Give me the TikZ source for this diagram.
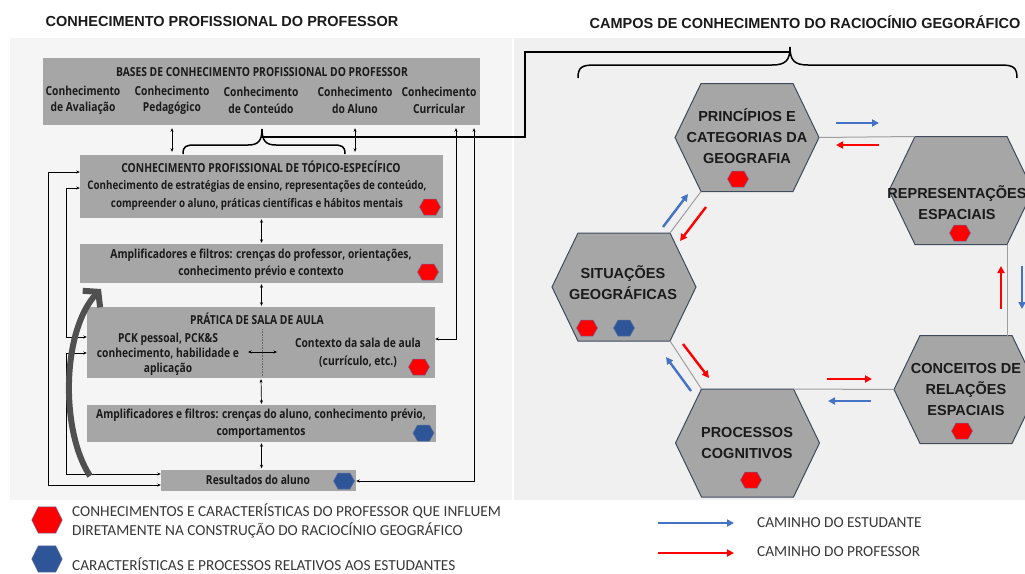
\documentclass[tikz,border=0pt]{standalone}
\usepackage{fontspec}
\setmainfont{Liberation Sans}
\newfontfamily\boxfont[FakeStretch=0.83]{Open Sans}
\newfontfamily\legfont{Carlito}
\usetikzlibrary{arrows.meta,calc}

\definecolor{panelL}{HTML}{F5F5F5}
\definecolor{panelR}{HTML}{F0F0F0}
\definecolor{boxgray}{HTML}{A6A6A6}
\definecolor{hexgray}{HTML}{A6A6A6}
\definecolor{hexrim}{HTML}{3F4A5C}
\definecolor{markred}{HTML}{FF0000}
\definecolor{markblue}{HTML}{2E5597}
\definecolor{markrim}{HTML}{6070A0}
\definecolor{pathblue}{HTML}{4472C4}
\definecolor{pathred}{HTML}{FF0000}
\definecolor{linkgray}{HTML}{9E9E9E}
\definecolor{curvegray}{HTML}{505050}
\definecolor{inkdark}{HTML}{1A1A1A}
\definecolor{legink}{HTML}{383838}

% flat-topped hexagon with named corners
\newcommand\drawhex[3]{%
  \coordinate (#1) at (#2,#3);
  \coordinate (#1-w)  at ($(#1)+(-72,0)$);
  \coordinate (#1-nw) at ($(#1)+(-46,-54)$);
  \coordinate (#1-ne) at ($(#1)+(46,-54)$);
  \coordinate (#1-e)  at ($(#1)+(72,0)$);
  \coordinate (#1-se) at ($(#1)+(46,54)$);
  \coordinate (#1-sw) at ($(#1)+(-46,54)$);
  \filldraw[bighex] (#1-w) -- (#1-nw) -- (#1-ne) -- (#1-e) -- (#1-se) -- (#1-sw) -- cycle;
}

\tikzset{
  pics/redmark/.style={code={\filldraw[fill=markred,draw=markrim,line width=0.5pt]
      (-10.5,0) -- (-6,-8) -- (6,-8) -- (10.5,0) -- (6,8) -- (-6,8) -- cycle;}},
  pics/bluemark/.style={code={\filldraw[fill=markblue,draw=markrim,line width=0.5pt]
      (-10.5,0) -- (-6,-8) -- (6,-8) -- (10.5,0) -- (6,8) -- (-6,8) -- cycle;}},
}

\begin{document}
\begin{tikzpicture}[x=1pt,y=-1pt,
  title/.style={font=\bfseries\fontsize{14.5}{17}\selectfont, inner sep=0pt, text=inkdark},
  gbox/.style={fill=boxgray, draw=none, inner sep=0pt},
  btxt/.style={font=\boxfont\bfseries\fontsize{12.4}{17}\selectfont, align=center, inner sep=0pt, text=inkdark},
  link/.style={line width=0.7pt, {Stealth[length=3.5pt,width=3pt]}-{Stealth[length=3.5pt,width=3pt]}},
  brace/.style={line width=1.5pt, black},
  bridge/.style={line width=1.5pt, black},
  bigcurve/.style={line width=6pt, curvegray, -{Straight Barb[length=10pt,width=24pt]}},
  bighex/.style={fill=hexgray, draw=hexrim, line width=1pt},
  hextxt/.style={font=\bfseries\fontsize{14.5}{21}\selectfont, align=center, inner sep=0pt, text=inkdark},
  hexlink/.style={line width=1pt, linkgray},
  patharrow/.style={line width=2.4pt, -{Triangle[length=7pt,width=7pt]}},
  legtxt/.style={font=\legfont\fontsize{15.3}{19}\selectfont, align=left, inner sep=0pt, text=legink, anchor=west},
]
\useasboundingbox (0,0) rectangle (1025,573);
\clip (0,0) rectangle (1025,573);
\fill[white] (0,0) rectangle (1025,573);
\fill[panelL] (10,38) rectangle (512,500);
\fill[panelR] (514,38) rectangle (1025,500);

% ---------- titles ----------
\node[title] (ttlL) at (222,22) {CONHECIMENTO PROFISSIONAL DO PROFESSOR};
\node[title] (ttlR) at (805,22) {CAMPOS DE CONHECIMENTO DO RACIOCÍNIO GEGORÁFICO};

% ---------- left panel: boxes ----------
\node[gbox, minimum width=437pt, minimum height=67pt] (bases) at (261.5,91.5) {};
\node[btxt] (basesT) at (262,72) {BASES DE CONHECIMENTO PROFISSIONAL DO PROFESSOR};
\node[btxt, font=\boxfont\bfseries\fontsize{12.4}{16.5}\selectfont] (cAva) at (83,100.5) {Conhecimento\\de Avaliação};
\node[btxt, font=\boxfont\bfseries\fontsize{12.4}{16.5}\selectfont] (cPed) at (172,100.5) {Conhecimento\\Pedagógico};
\node[btxt, font=\boxfont\bfseries\fontsize{12.4}{16.5}\selectfont] (cCon) at (261,100.5) {Conhecimento\\de Conteúdo};
\node[btxt, font=\boxfont\bfseries\fontsize{12.4}{16.5}\selectfont] (cAlu) at (355,100.5) {Conhecimento\\do Aluno};
\node[btxt, font=\boxfont\bfseries\fontsize{12.4}{16.5}\selectfont] (cCur) at (439,100.5) {Conhecimento\\Curricular};

\node[gbox, minimum width=363pt, minimum height=63pt] (topic) at (261.5,186.5) {};
\node[btxt] (topicT) at (261,167) {CONHECIMENTO PROFISSIONAL DE TÓPICO-ESPECÍFICO};
\node[btxt, font=\boxfont\bfseries\fontsize{11.8}{18}\selectfont] (topicB) at (257,195.5) {Conhecimento de estratégias de ensino, representações de conteúdo,\\compreender o aluno, práticas científicas e hábitos mentais};
\pic at (430,207) {redmark};

\node[gbox, minimum width=363pt, minimum height=39pt] (amp1) at (261.5,263.5) {};
\node[btxt] (amp1T) at (261,264) {Amplificadores e filtros: crenças do professor, orientações,\\conhecimento prévio e contexto};
\pic at (428,272) {redmark};

\node[gbox, minimum width=348pt, minimum height=71pt] (prat) at (261,342.5) {};
\node[btxt] (pratT) at (257,319) {PRÁTICA DE SALA DE AULA};
\node[btxt, font=\boxfont\bfseries\fontsize{12.4}{14.8}\selectfont] (pratL) at (168,354) {PCK pessoal, PCK\&S\\conhecimento, habilidade e\\aplicação};
\node[btxt, font=\boxfont\bfseries\fontsize{12.4}{18}\selectfont] (pratR) at (358,352.5) {Contexto da sala de aula\\(currículo, etc.)};
\coordinate (divTop) at (262,329);
\coordinate (divBot) at (262,376);
\draw[densely dotted, line width=0.6pt, black!60] (divTop) -- (divBot);
\coordinate (pkA) at (248,352);
\coordinate (pkB) at (277,352);
\draw[link] (pkA) -- (pkB);
\pic at (419,367) {redmark};

\node[gbox, minimum width=349pt, minimum height=37pt] (amp2) at (261.5,423.5) {};
\node[btxt] (amp2T) at (261,423.5) {Amplificadores e filtros: crenças do aluno, conhecimento prévio,\\comportamentos};
\pic at (423.5,433) {bluemark};

\node[gbox, minimum width=195pt, minimum height=21pt] (res) at (258.5,480) {};
\node[btxt] (resT) at (258,480) {Resultados do aluno};
\pic at (344,481) {bluemark};

% ---------- left panel: connectors ----------
\draw[link] ([yshift=-3pt]bases.south -| cPed) -- ([yshift=3pt]topic.north -| cPed);
\draw[link] ([yshift=-3pt]bases.south -| cAlu) -- ([yshift=3pt]topic.north -| cAlu);
\draw[link, shorten <=1pt, shorten >=1pt] (topic.south) -- (amp1.north);
\draw[link, shorten <=1pt, shorten >=1pt] (amp1.south) -- (amp1.south |- prat.north);
\draw[link, shorten <=1pt, shorten >=1pt] (prat.south) -- (amp2.north);
\draw[link, shorten <=1pt, shorten >=1pt] (amp2.south) -- (amp2.south |- res.north);

\coordinate (outerL) at (48,485);
\coordinate (innerA) at (66,337);
\coordinate (innerB) at (66,474);
\coordinate (rightA) at (456,339);
\coordinate (rightB) at (474,481);
\draw[link] ([yshift=14.5pt]topic.west) -| (outerL) -- ([yshift=-5pt]res.west);
\draw[link] ([yshift=-1.5pt]topic.west) -| (innerA) -- ([yshift=5.5pt]prat.west);
\draw[link] ([yshift=-10.5pt]prat.west) -| (innerB) -- ([yshift=6pt]res.west);
\draw[link] ([yshift=-3pt]bases.south -| rightA) -- (rightA) -- ([yshift=3.5pt]prat.east);
\draw[link] ([yshift=-3pt]bases.south -| rightB) -- (rightB) -- ([yshift=-1pt]res.east);

% big feedback arrow
\coordinate (curveS) at (90,476);
\coordinate (curveE) at (101,289);
\draw[bigcurve] (curveS) .. controls (60,430) and (62,330) .. (curveE);

% braces and the bridge between the two panels
\coordinate (braceL) at (262,129);
\coordinate (braceR) at (790,47);
\draw[brace] (183,154) .. controls (183,146) and (186,145) .. (195,145) -- (248,145)
  .. controls (258,145) and (262,141) .. (braceL)
  .. controls (262,141) and (266,145) .. (276,145) -- (333,145)
  .. controls (342,145) and (345,146) .. (345,154);
\draw[brace] (578,78) .. controls (578,67) and (582,65) .. (595,65) -- (772,65)
  .. controls (786,65) and (790,60) .. (braceR)
  .. controls (790,60) and (794,65) .. (808,65) -- (1000,65)
  .. controls (1013,65) and (1017,67) .. (1017,78);
\coordinate (bendA) at (525,137);
\coordinate (bendB) at (525,52);
\draw[bridge] (braceL) -- (braceL |- bendA) -- (bendA) -- (bendB) -- (braceR |- bendB);

% ---------- right panel: hexagons ----------
\drawhex{h1}{747}{137.5}
\drawhex{h2}{961}{190.5}
\drawhex{h3}{624}{287}
\drawhex{h4}{747.5}{443}
\drawhex{h5}{966}{389.5}

\draw[hexlink] (h1-e) -- (h2-nw);
\draw[hexlink] (h1-sw) -- (h3-ne);
\draw[hexlink] (h3-se) -- (h4-nw);
\draw[hexlink] (h4-ne) -- (h5-w);
\draw[hexlink] (h2-se) -- (h2-se |- h5-nw);

\node[hextxt] (h1T) at (747,136) {PRINCÍPIOS E\\CATEGORIAS DA\\GEOGRAFIA};
\node[hextxt] (h2T) at (957,203) {REPRESENTAÇÕES\\ESPACIAIS};
\node[hextxt] (h3T) at (623,282.5) {SITUAÇÕES\\GEOGRÁFICAS};
\node[hextxt] (h4T) at (747,443.5) {PROCESSOS\\COGNITIVOS};
\node[hextxt] (h5T) at (966,390) {CONCEITOS DE\\RELAÇÕES\\ESPACIAIS};
\pic at (738,179) {redmark};
\pic at (960,233) {redmark};
\pic at (587,328) {redmark};
\pic at (624,328) {bluemark};
\pic at (751,480) {redmark};
\pic at (962,431) {redmark};

% student (blue) and teacher (red) paths
\draw[patharrow, pathblue] (836,123) -- (879,123);
\draw[patharrow, pathred] (879,145) -- (836,145);
\draw[patharrow, pathblue] (663,227) -- (688,194);
\draw[patharrow, pathred] (706,207) -- (680,241);
\draw[patharrow, pathred] (683,344) -- (709,378);
\draw[patharrow, pathblue] (691,391) -- (666,357);
\draw[patharrow, pathred] (827,379) -- (872,379);
\draw[patharrow, pathblue] (871,401) -- (828,401);
\draw[patharrow, pathred] (1001,309) -- (1001,266);
\draw[patharrow, pathblue] (1022,266) -- (1022,309);

% ---------- legends ----------
\pic[xscale=1.45, yscale=1.65] at (47,520) {redmark};
\node[legtxt] (legR) at (72,521) {CONHECIMENTOS E CARACTERÍSTICAS DO PROFESSOR QUE INFLUEM\\DIRETAMENTE NA CONSTRUÇÃO DO RACIOCÍNIO GEOGRÁFICO};
\pic[xscale=1.45, yscale=1.65] at (47,559) {bluemark};
\node[legtxt] (legB) at (72,564) {CARACTERÍSTICAS E PROCESSOS RELATIVOS AOS ESTUDANTES};

\coordinate (lgBs) at (658,523);
\coordinate (lgBe) at (734,523);
\coordinate (lgRs) at (658,553);
\coordinate (lgRe) at (734,553);
\draw[patharrow, pathblue] (lgBs) -- (lgBe);
\draw[patharrow, pathred] (lgRs) -- (lgRe);
\node[legtxt] (legS) at (757,523) {CAMINHO DO ESTUDANTE};
\node[legtxt] (legP) at (757,552) {CAMINHO DO PROFESSOR};
\end{tikzpicture}
\end{document}
